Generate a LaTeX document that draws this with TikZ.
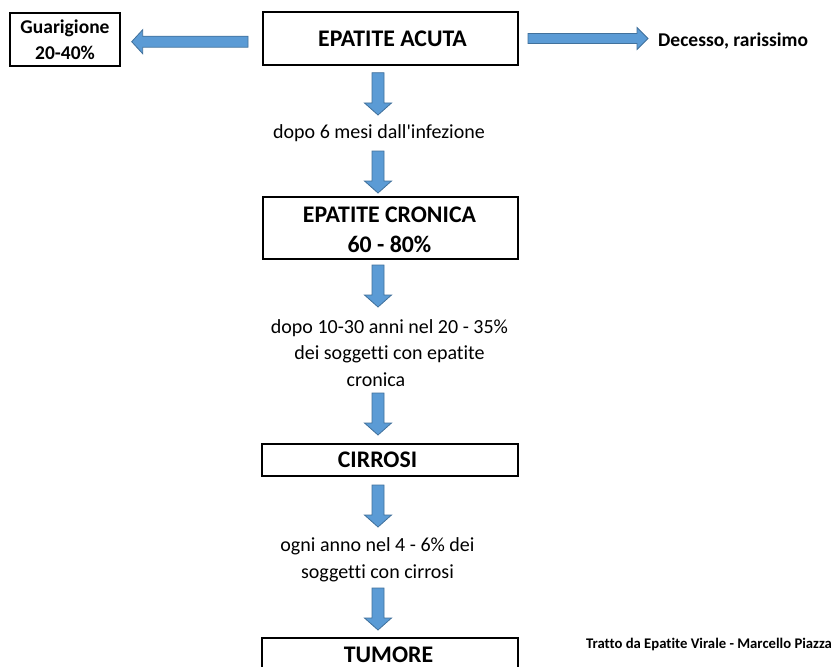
\documentclass[tikz,border=0pt]{standalone}
\usepackage{fontspec}
\setmainfont[Ligatures={NoCommon,TeXOff}]{Carlito}
\usetikzlibrary{calc}
\definecolor{arrfill}{HTML}{5B9BD5}
\definecolor{arrline}{HTML}{41719C}
\newcommand\blockdown[2]{\draw[barrow] ($(#1)+(-6,0)$) -- ($(#1)+(6,0)$) -- ($(#2)+(6,-12)$) -- ($(#2)+(13.5,-12)$) -- (#2) -- ($(#2)+(-13.5,-12)$) -- ($(#2)+(-6,-12)$) -- cycle;}
\newcommand\blockleft[2]{\draw[barrow] ($(#1)+(0,-5.5)$) -- ($(#2)+(11,-5.5)$) -- ($(#2)+(11,-12)$) -- (#2) -- ($(#2)+(11,12)$) -- ($(#2)+(11,5.5)$) -- ($(#1)+(0,5.5)$) -- cycle;}
\newcommand\blockright[2]{\draw[barrow] ($(#1)+(0,-5)$) -- ($(#2)+(-11,-5)$) -- ($(#2)+(-11,-11)$) -- (#2) -- ($(#2)+(-11,11)$) -- ($(#2)+(-11,5)$) -- ($(#1)+(0,5)$) -- cycle;}
\tikzset{
  barrow/.style={fill=arrfill, draw=arrline, line width=0.8pt, line join=miter},
  box/.style={draw=black, line width=1.5pt, minimum width=255pt, inner sep=0pt, align=center, font=\fontsize{23.8}{30}\selectfont\bfseries},
  txt/.style={inner sep=0pt, align=center, font=\fontsize{20}{26.5}\selectfont},
}
\begin{document}
\begin{tikzpicture}[x=1pt,y=-1pt]
\clip (0,0) rectangle (834,666);
\fill[white] (0,0) rectangle (834,666);
% boxes
\node[box, minimum height=53pt] (acuta) at (390.5,38.5) {EPATITE ACUTA\hspace*{-4pt}};
\node[box, minimum width=110pt, minimum height=53pt, font=\fontsize{19.5}{26}\selectfont\bfseries] (guar) at (65,39.5) {Guarigione\\20-40\%};
\node[anchor=base west, inner sep=0pt, font=\fontsize{19.5}{24}\selectfont\bfseries] (dec) at (658,46.5) {Decesso, rarissimo};
\node[txt, anchor=base] (t1) at (379,138) {dopo 6 mesi dall'infezione};
\node[box, minimum height=62pt] (cronica) at (390.5,228) {};
\node[txt, font=\fontsize{23.8}{30}\selectfont\bfseries] (cronicatxt) at (389.5,230) {EPATITE CRONICA\\60 - 80\%};
\node[txt] (t2) at (389.5,353) {dopo 10-30 anni nel 20 - 35\%\\dei soggetti con epatite\\cronica\hspace*{27pt}};
\node[box, minimum width=256pt, minimum height=32pt] (cirrosi) at (390,460) {CIRROSI\hspace*{25pt}};
\node[txt, font=\fontsize{20}{27}\selectfont] (t3) at (377.5,560) {ogni anno nel 4 - 6\% dei\\soggetti con cirrosi};
\node[box, minimum width=256pt, minimum height=34pt] (tumore) at (390,655) {TUMORE\hspace*{3pt}};
\node[anchor=base, inner sep=0pt, font=\fontsize{14.7}{18}\selectfont\bfseries] (credit) at (709,648.3) {Tratto da Epatite Virale - Marcello Piazza};
% arrow coordinates
\coordinate (l1) at (248,41.7); \coordinate (l2) at (131.7,41.7);
\coordinate (r1) at (528,38.5); \coordinate (r2) at (648,38.5);
\coordinate (d1a) at (378,72.7); \coordinate (d1b) at (378,115);
\coordinate (d2a) at (378,151); \coordinate (d2b) at (378,193);
\coordinate (d3a) at (378,265); \coordinate (d3b) at (378,307);
\coordinate (d4a) at (378,393); \coordinate (d4b) at (378,435);
\coordinate (d5a) at (378,485); \coordinate (d5b) at (378,527);
\coordinate (d6a) at (378,588); \coordinate (d6b) at (378,630);
\blockleft{l1}{l2}
\blockright{r1}{r2}
\blockdown{d1a}{d1b}
\blockdown{d2a}{d2b}
\blockdown{d3a}{d3b}
\blockdown{d4a}{d4b}
\blockdown{d5a}{d5b}
\blockdown{d6a}{d6b}
\end{tikzpicture}
\end{document}
